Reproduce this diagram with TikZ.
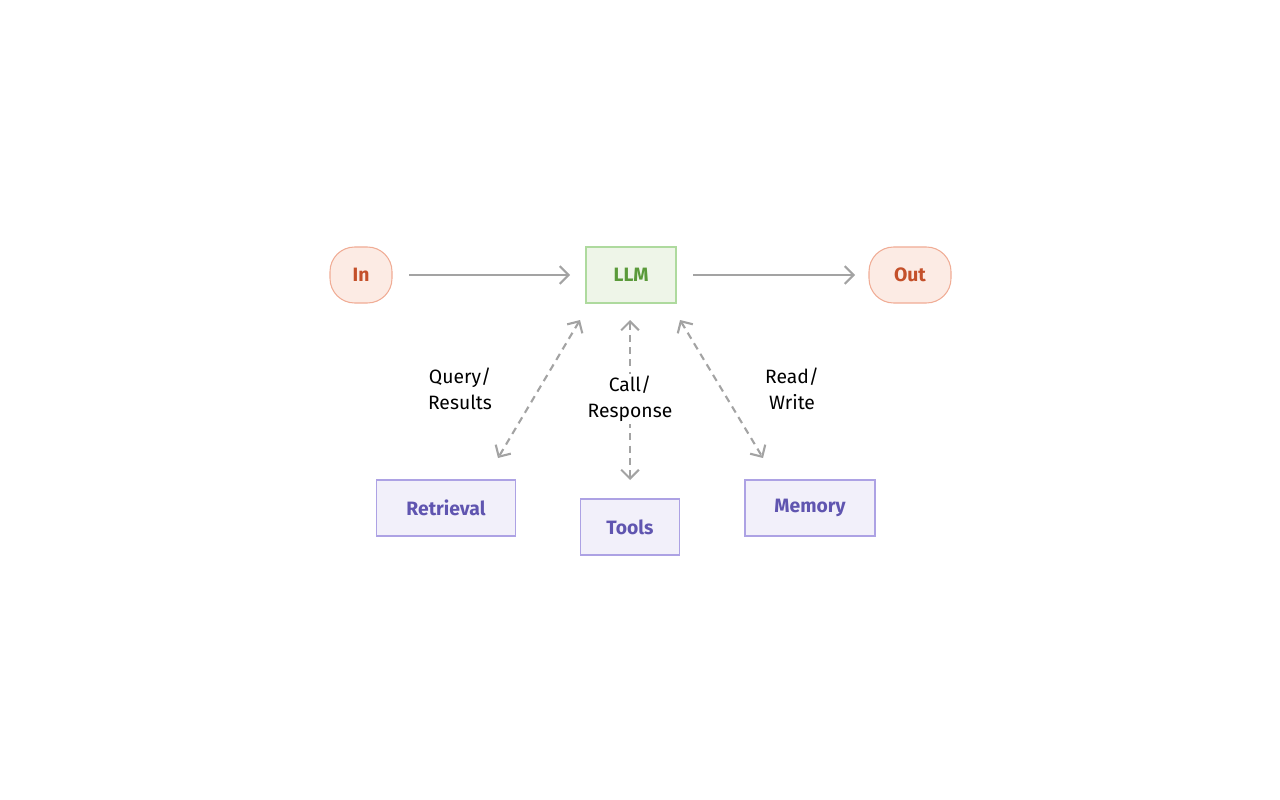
\documentclass[tikz,border=0pt]{standalone}
\usepackage{fontspec}
\setmainfont{Fira Sans}
\usetikzlibrary{arrows.meta}
\definecolor{inF}{HTML}{FCEBE4}\definecolor{inD}{HTML}{F0AC95}\definecolor{inT}{HTML}{C4502A}
\definecolor{gF}{HTML}{EEF5E8}\definecolor{gD}{HTML}{AEDA9E}\definecolor{gT}{HTML}{5A9A3A}
\definecolor{pF}{HTML}{F2F0FA}\definecolor{pD}{HTML}{ADA2E4}\definecolor{pT}{HTML}{6055B0}
\definecolor{ar}{HTML}{A3A3A3}
\begin{document}
\begin{tikzpicture}[x=0.02cm,y=-0.02cm,
 pill/.style={draw=inD,fill=inF,text=inT,rounded corners=14pt,minimum height=56*0.02cm,font=\fontsize{11}{13}\selectfont\bfseries,line width=0.6pt},
 box/.style={draw=#1D,fill=#1F,text=#1T,minimum height=56*0.02cm,font=\fontsize{11}{13}\selectfont\bfseries,line width=0.6pt},
 arr/.style={draw=ar,line width=1.2pt,-{Straight Barb[length=5pt,width=10pt]}},
 darr/.style={draw=ar,line width=1.2pt,dash pattern=on 4pt off 3pt,{Straight Barb[length=5pt,width=10pt]}-{Straight Barb[length=5pt,width=10pt]}},
 lab/.style={font=\fontsize{11}{15}\selectfont,align=center,text=black}]
\useasboundingbox (0,0) rectangle (1280,800);
\node[pill,minimum width=62*0.02cm] (in) at (361,275) {In};
\node[box=g,minimum width=90*0.02cm] (llm) at (631,275) {LLM};
\node[pill,minimum width=82*0.02cm] (out) at (910,275) {Out};
\node[box=p,minimum width=139*0.02cm] (ret) at (446,508) {Retrieval};
\node[box=p,minimum width=99*0.02cm] (tools) at (630,527) {Tools};
\node[box=p,minimum width=130*0.02cm] (mem) at (810,508) {Memory};
\coordinate (a1) at (409,275); \coordinate (a2) at (570,275);
\coordinate (b1) at (693,275); \coordinate (b2) at (855,275);
\draw[arr] (a1) -- (a2);
\draw[arr] (b1) -- (b2);
\coordinate (l1) at (580,320); \coordinate (l2) at (498,458);
\coordinate (c1) at (630,320); \coordinate (c2) at (630,480);
\coordinate (r1) at (680,320); \coordinate (r2) at (763,458);
\draw[darr] (l1) -- (l2);
\draw[darr] (c1) -- (c2);
\draw[darr] (r1) -- (r2);
\node[lab] (q) at (460,389) {Query/\\Results};
\node[lab,fill=white,inner sep=1pt] (c) at (630,399) {Call/\\Response};
\node[lab] (rw) at (792,389) {Read/\\Write};
\end{tikzpicture}
\end{document}
